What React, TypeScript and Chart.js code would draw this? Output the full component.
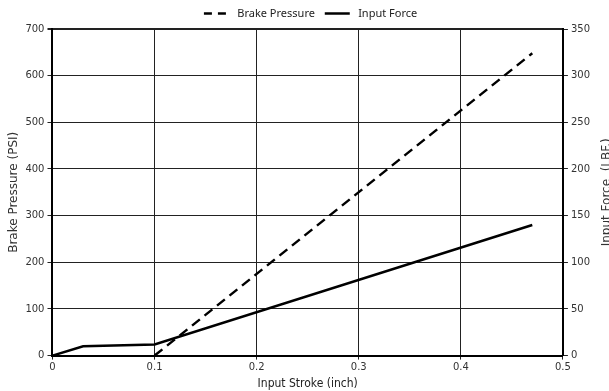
import React, { useEffect, useRef } from 'react';
import { Chart, registerables } from 'chart.js';
Chart.register(...registerables);

const brakeStroke = [0.1, 0.47];
const brakePressure = [0, 648];
const forceStroke = [0, 0.03, 0.1, 0.47];
const inputForce = [0, 10, 12, 140];

const seriesNames = ['Brake Pressure', 'Input Force'];
const xTitle = 'Input Stroke (inch)';
const yTitle = 'Brake Pressure (PSI)';
const y1Title = 'Input Force  (LBF.)';

const rightTitlePlugin = {
  id: 'rightTitle',
  afterLayout(chart: any) {
    if (chart.legend) {
      chart.legend.left += 12;
      chart.legend.right += 12;
    }
  },
  afterDraw(chart: any) {
    const { ctx, chartArea } = chart;
    ctx.save();
    ctx.font = '12px "DejaVu Sans"';
    ctx.fillStyle = '#333';
    ctx.textAlign = 'center';
    ctx.textBaseline = 'middle';
    ctx.translate(607, (chartArea.top + chartArea.bottom) / 2);
    ctx.rotate(-Math.PI / 2);
    ctx.fillText(y1Title, 0, 0);
    ctx.restore();
  },
};

export default function App() {
  const ref = useRef<HTMLCanvasElement>(null);
  useEffect(() => {
    const chart = new Chart(ref.current!, {
      type: 'line',
      data: {
        datasets: [
          {
            label: seriesNames[0],
            data: brakeStroke.map((x, i) => ({ x, y: brakePressure[i] })),
            yAxisID: 'y',
            borderColor: '#000',
            backgroundColor: '#000',
            borderWidth: 2.5,
            borderDash: [10, 6],
            pointRadius: 0,
          },
          {
            label: seriesNames[1],
            data: forceStroke.map((x, i) => ({ x, y: inputForce[i] })),
            yAxisID: 'y1',
            borderColor: '#000',
            backgroundColor: '#000',
            borderWidth: 2.5,
            pointRadius: 0,
          },
        ],
      },
      options: {
        animation: false,
        responsive: true,
        maintainAspectRatio: false,
        layout: { padding: { left: 7, right: 16, top: 1, bottom: 0 } },
        plugins: {
          tooltip: { enabled: false },
          legend: {
            position: 'top',
            labels: {
              usePointStyle: true,
              pointStyle: 'line',
              pointStyleWidth: 25,
              boxWidth: 25,
              color: '#222',
              font: { family: '"Noto Sans"', size: 11 },
              padding: 7,
              generateLabels: (chart: any) =>
                chart.data.datasets.map((ds: any, i: number) => ({
                  text: ' ' + ds.label + ' ',
                  fillStyle: '#000',
                  strokeStyle: '#000',
                  lineWidth: 2.5,
                  lineDash: i === 0 ? [8, 6] : [],
                  pointStyle: 'line',
                  datasetIndex: i,
                  fontColor: '#222',
                  hidden: false,
                })),
            },
          },
        },
        scales: {
          x: {
            type: 'linear',
            min: 0,
            max: 0.5,
            ticks: { stepSize: 0.1, color: '#333', font: { family: '"DejaVu Sans"', size: 10 }, padding: 2 },
            grid: { color: '#222', lineWidth: 1, tickLength: 4 },
            border: { color: '#000', width: 2 },
            title: { display: true, text: xTitle, color: '#222', font: { family: '"Liberation Sans Narrow", "DejaVu Sans Condensed"', size: 12 }, padding: { top: 1, bottom: 0 } },
          },
          y: {
            position: 'left',
            min: 0,
            max: 700,
            ticks: { stepSize: 100, color: '#333', font: { family: '"DejaVu Sans"', size: 10 }, padding: 3 },
            grid: {
              color: '#222',
              lineWidth: (c: any) => (c.tick && c.tick.value === 700 ? 2 : 1),
              tickLength: 5,
            },
            border: { color: '#000', width: 2 },
            title: { display: true, text: yTitle, color: '#333', font: { family: '"DejaVu Sans"', size: 12 }, padding: { top: 0, bottom: 1 } },
          },
          y1: {
            position: 'right',
            min: 0,
            max: 350,
            ticks: { stepSize: 50, color: '#333', font: { family: '"DejaVu Sans"', size: 10 }, padding: 3 },
            grid: { drawOnChartArea: false, color: '#222', tickLength: 5 },
            border: { color: '#000', width: 2 },
          },
        },
      },
      plugins: [rightTitlePlugin],
    } as any);
    return () => chart.destroy();
  }, []);
  return (
    <div style={{ position: 'fixed', left: 0, top: 0, width: 609, height: 391, overflow: 'hidden', background: '#fff' }}>
      <canvas ref={ref} />
    </div>
  );
}
